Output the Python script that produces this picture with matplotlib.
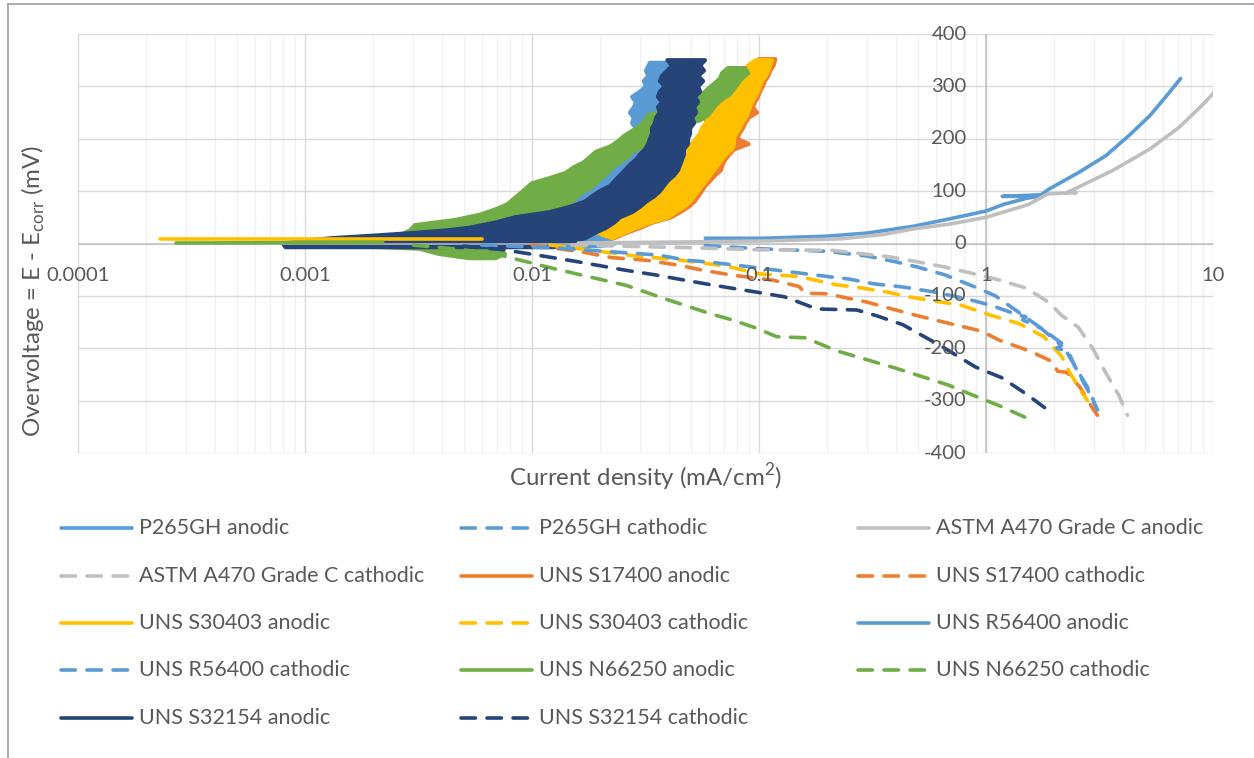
import numpy as np
import matplotlib.pyplot as plt
from matplotlib.lines import Line2D
from matplotlib.ticker import LogLocator, NullFormatter

plt.rcParams['font.family'] = ['Lato', 'DejaVu Sans']
plt.rcParams['mathtext.fontset'] = 'custom'
plt.rcParams['mathtext.rm'] = 'Lato'

BLUE = '#5B9BD5'
GREY = '#BFBFBF'
ORANGE = '#ED7D31'
YELLOW = '#FFC000'
GREEN = '#70AD47'
NAVY = '#264478'
TXT = '#595959'

# ---- smooth polarisation curves (current mA/cm2, overvoltage mV) ----
p265_an_i = [0.058, 0.105, 0.2, 0.3, 0.48, 0.69, 1.0, 1.2, 1.5, 1.69, 1.18, 1.75, 1.88, 2.57, 3.38, 4.26, 5.27, 6.27, 7.2]
p265_an_e = [10, 10, 14, 20, 33, 47, 62, 75, 86, 90, 90, 93, 103, 136, 168, 206, 244, 283, 315]

p265_ca_i = [0.058, 0.1, 0.2, 0.3, 0.4, 0.5, 0.66, 0.86, 1.1, 1.4, 1.7, 2.15, 2.55, 2.85, 3.05]
p265_ca_e = [-4, -10, -15, -24, -35, -45, -60, -80, -100, -132, -158, -190, -245, -280, -312]

a470_an_i = [0.016, 0.05, 0.11, 0.23, 0.35, 0.48, 0.69, 1.0, 1.53, 1.88, 2.5, 2.3, 2.4, 3.6, 5.3, 7.1, 9.1, 10.7]
a470_an_e = [1, 3, 5, 9, 17, 28, 37, 50, 74, 95, 97, 99, 102, 139, 181, 222, 267, 300]

a470_ca_i = [0.015, 0.05, 0.1, 0.21, 0.29, 0.37, 0.5, 0.66, 0.85, 1.15, 1.5, 1.9, 2.15, 2.55, 2.95, 3.35, 3.85, 4.2]
a470_ca_e = [-3, -8, -12, -13, -20, -25, -35, -45, -56, -70, -85, -113, -137, -160, -200, -245, -290, -328]

s17400_ca_i = [0.010, 0.0165, 0.0225, 0.032, 0.045, 0.055, 0.075, 0.115, 0.15, 0.16, 0.2, 0.22, 0.3, 0.37, 0.49, 0.68, 0.95, 1.15, 1.55, 1.95, 2.07, 2.27, 2.6, 2.95, 3.1]
s17400_ca_e = [-3, -16, -27, -32, -42, -50, -60, -70, -82, -95, -96, -100, -112, -123, -137, -152, -167, -185, -205, -225, -244, -246, -275, -315, -328]

s30403_ca_i = [0.012, 0.02, 0.03, 0.042, 0.063, 0.075, 0.1, 0.15, 0.2, 0.22, 0.265, 0.37, 0.46, 0.78, 1.05, 1.4, 1.8, 2.15, 2.35, 2.65, 2.8]
s30403_ca_e = [-3, -15, -25, -30, -40, -45, -58, -63, -75, -79, -83, -93, -102, -118, -137, -153, -178, -215, -248, -285, -300]

r56400_ca_i = [0.006, 0.012, 0.021, 0.036, 0.048, 0.062, 0.085, 0.125, 0.2, 0.25, 0.32, 0.43, 0.58, 0.81, 1.05, 1.4, 1.5, 1.45, 1.75, 2.15, 2.05, 2.3, 2.5, 2.85, 3.1]
r56400_ca_e = [-3, -8, -15, -22, -32, -36, -43, -52, -63, -68, -77, -83, -92, -105, -118, -137, -140, -146, -162, -195, -200, -206, -240, -285, -318]

n66250_ca_i = [0.003, 0.005, 0.0072, 0.0125, 0.026, 0.04, 0.062, 0.075, 0.095, 0.12, 0.16, 0.22, 0.4, 0.68, 0.88, 1.15, 1.6]
n66250_ca_e = [-3, -12, -22, -48, -80, -108, -135, -145, -160, -178, -180, -205, -238, -270, -290, -310, -338]

s32154_ca_i = [0.005, 0.0075, 0.0095, 0.0155, 0.025, 0.035, 0.047, 0.06, 0.075, 0.095, 0.13, 0.18, 0.27, 0.33, 0.43, 0.52, 0.63, 0.9, 1.17, 1.5, 1.9]
s32154_ca_e = [-5, -12, -19, -34, -50, -60, -70, -78, -85, -92, -102, -125, -127, -138, -155, -175, -195, -236, -256, -287, -320]

# ---- noisy anodic scans: overvoltage levels with low/high current envelope ----
s17400_an_e = [352, 340, 330, 320, 310, 300, 290, 280, 270, 260, 250, 240, 230, 220, 210, 200, 190, 180, 170, 160, 150, 140, 130, 120, 110, 100, 90, 80, 70, 60, 50, 40, 30, 20, 10]
s17400_an_lo = [0.100, 0.092, 0.088, 0.084, 0.081, 0.079, 0.075, 0.072, 0.069, 0.066, 0.055, 0.058, 0.059, 0.057, 0.056, 0.054, 0.052, 0.050, 0.048, 0.046, 0.044, 0.042, 0.041, 0.040, 0.039, 0.036, 0.033, 0.030, 0.028, 0.025, 0.023, 0.0205, 0.018, 0.0165, 0.015]
s17400_an_hi = [0.118, 0.116, 0.112, 0.110, 0.106, 0.104, 0.101, 0.099, 0.096, 0.094, 0.098, 0.090, 0.087, 0.085, 0.082, 0.080, 0.090, 0.078, 0.074, 0.071, 0.069, 0.068, 0.064, 0.061, 0.058, 0.056, 0.054, 0.052, 0.049, 0.045, 0.041, 0.034, 0.030, 0.026, 0.023]

s30403_an_e = [350, 340, 330, 320, 310, 300, 290, 280, 270, 260, 250, 240, 230, 220, 210, 200, 190, 180, 170, 160, 150, 140, 130, 120, 110, 100, 90, 80, 70, 60, 50, 40, 30, 20, 10, 5]
s30403_an_lo = [0.0970, 0.0895, 0.0859, 0.0824, 0.0792, 0.0776, 0.0730, 0.0701, 0.0673, 0.0647, 0.0621, 0.0596, 0.0585, 0.0561, 0.0550, 0.0528, 0.0507, 0.0487, 0.0467, 0.0449, 0.0431, 0.0414, 0.0405, 0.0397, 0.0381, 0.0352, 0.0325, 0.0299, 0.0276, 0.0249, 0.0227, 0.0203, 0.0180, 0.0163, 0.0147, 0.0133]
s30403_an_hi = [0.114, 0.112, 0.110, 0.107, 0.103, 0.101, 0.0990, 0.0960, 0.0931, 0.0912, 0.0895, 0.0877, 0.0841, 0.0824, 0.0792, 0.0776, 0.0776, 0.0760, 0.0716, 0.0687, 0.0660, 0.0634, 0.0608, 0.0585, 0.0561, 0.0539, 0.0518, 0.0497, 0.0467, 0.0431, 0.0397, 0.0331, 0.0287, 0.0254, 0.0225, 0.0199]
s30403_tail_i = [0.00023, 0.006]
s30403_tail_e = [8, 8]

r56400_an_e = [345, 330, 320, 310, 300, 290, 280, 270, 260, 250, 240, 230, 220, 210, 200, 190, 180, 170, 160, 150, 140, 130, 120, 110, 100, 90, 80, 70, 60, 50, 40, 30, 20, 10, 0, -5]
r56400_an_lo = [0.0331, 0.0318, 0.0325, 0.0311, 0.0318, 0.0299, 0.0276, 0.0287, 0.0281, 0.0270, 0.0281, 0.0276, 0.0287, 0.0287, 0.0293, 0.0287, 0.0265, 0.0259, 0.0249, 0.0232, 0.0221, 0.0208, 0.0199, 0.0191, 0.0180, 0.0166, 0.0150, 0.0136, 0.0120, 0.0106, 0.0093, 0.0080, 0.00653, 0.00533, 0.00507, 0.0059]
r56400_an_hi = [0.0405, 0.0405, 0.0397, 0.0389, 0.0397, 0.0381, 0.0374, 0.0381, 0.0366, 0.0374, 0.0374, 0.0366, 0.0381, 0.0366, 0.0374, 0.0366, 0.0348, 0.0331, 0.0318, 0.0299, 0.0287, 0.0270, 0.0259, 0.0244, 0.0232, 0.0221, 0.0210, 0.0195, 0.0184, 0.0180, 0.0176, 0.0171, 0.0180, 0.0199, 0.0232, 0.0199]

n66250_an_e = [335, 325, 315, 305, 295, 285, 275, 265, 255, 245, 235, 225, 215, 205, 195, 185, 175, 165, 155, 145, 135, 125, 115, 105, 95, 85, 75, 65, 55, 45, 35, 25, 15, 5, 0, -10, -20, -28]
n66250_an_lo = [0.0730, 0.0687, 0.0673, 0.0634, 0.0596, 0.0561, 0.0528, 0.0497, 0.0405, 0.0325, 0.0315, 0.0299, 0.0276, 0.0254, 0.0239, 0.0221, 0.0191, 0.0180, 0.0169, 0.0152, 0.0141, 0.0120, 0.0100, 0.0094, 0.00885, 0.0083, 0.0078, 0.0069, 0.0059, 0.0046, 0.00305, 0.0029, 0.0026, 0.00175, 0.00095, 0.0032, 0.0039, 0.0053]
n66250_an_hi = [0.0868, 0.0895, 0.0841, 0.0807, 0.0776, 0.0745, 0.0687, 0.0647, 0.0621, 0.0596, 0.0550, 0.0405, 0.0381, 0.0366, 0.0345, 0.0315, 0.0276, 0.0265, 0.0244, 0.0227, 0.0216, 0.0203, 0.0191, 0.0180, 0.0163, 0.0155, 0.0147, 0.0133, 0.0118, 0.0103, 0.0093, 0.00885, 0.0084, 0.0076, 0.0072, 0.0072, 0.0076, 0.0069]
n66250_tail_i = [0.00027, 0.0022]
n66250_tail_e = [1, 2]

s32154_an_e = [350, 340, 330, 320, 310, 300, 290, 280, 270, 260, 250, 240, 230, 220, 210, 200, 190, 180, 170, 160, 150, 140, 130, 120, 110, 100, 90, 80, 70, 60, 50, 40, 30, 25, 20, 15, 10, 5, 0, -7]
s32154_an_lo = [0.0395, 0.0414, 0.0395, 0.0374, 0.0366, 0.0385, 0.0366, 0.0359, 0.0374, 0.0359, 0.0366, 0.0352, 0.0348, 0.0338, 0.0338, 0.0331, 0.0325, 0.0315, 0.0299, 0.0287, 0.0270, 0.0257, 0.0244, 0.0232, 0.0221, 0.0199, 0.0184, 0.0171, 0.0147, 0.0120, 0.0084, 0.0069, 0.0053, 0.0042, 0.0030, 0.0020, 0.0013, 0.0010, 0.00080, 0.00082]
s32154_an_hi = [0.0578, 0.0550, 0.0572, 0.0539, 0.0567, 0.0539, 0.0550, 0.0523, 0.0539, 0.0518, 0.0528, 0.0507, 0.0518, 0.0497, 0.0497, 0.0487, 0.0487, 0.0467, 0.0467, 0.0458, 0.0449, 0.0440, 0.0422, 0.0397, 0.0381, 0.0366, 0.0345, 0.0318, 0.0299, 0.0276, 0.0244, 0.0230, 0.0212, 0.0200, 0.0189, 0.0180, 0.0171, 0.0155, 0.0133, 0.0125]

labels = ['P265GH anodic', 'P265GH cathodic', 'ASTM A470 Grade C anodic',
          'ASTM A470 Grade C cathodic', 'UNS S17400 anodic', 'UNS S17400 cathodic',
          'UNS S30403 anodic', 'UNS S30403 cathodic', 'UNS R56400 anodic',
          'UNS R56400 cathodic', 'UNS N66250 anodic', 'UNS N66250 cathodic',
          'UNS S32154 anodic', 'UNS S32154 cathodic']
colors = [BLUE, BLUE, GREY, GREY, ORANGE, ORANGE, YELLOW, YELLOW,
          BLUE, BLUE, GREEN, GREEN, NAVY, NAVY]

LW = 2.6
DASH = (0, (4.0, 3.2))

W, H = 1254, 758
fig = plt.figure(figsize=(W / 100, H / 100), dpi=100)
ax = fig.add_axes([78 / W, 1 - 453 / H, (1213 - 78) / W, (453 - 34) / H])


def curve(i, e, c, dashed=False):
    if dashed:
        ax.plot(i, e, color=c, lw=LW, linestyle=DASH, dash_capstyle='round')
    else:
        ax.plot(i, e, color=c, lw=LW, solid_capstyle='round', solid_joinstyle='round')


def band(e, lo, hi, c):
    e = np.asarray(e)
    x = np.r_[np.asarray(lo), np.asarray(hi)[::-1]]
    y = np.r_[e, e[::-1]]
    ax.fill(x, y, facecolor=c, edgecolor=c, lw=3.0, joinstyle='round')


curve(p265_an_i, p265_an_e, BLUE)
curve(p265_ca_i, p265_ca_e, BLUE, True)
curve(a470_an_i, a470_an_e, GREY)
curve(a470_ca_i, a470_ca_e, GREY, True)
band(s17400_an_e, s17400_an_lo, s17400_an_hi, ORANGE)
curve(s17400_ca_i, s17400_ca_e, ORANGE, True)
curve(s30403_tail_i, s30403_tail_e, YELLOW)
band(s30403_an_e, s30403_an_lo, s30403_an_hi, YELLOW)
curve(s30403_ca_i, s30403_ca_e, YELLOW, True)
band(r56400_an_e, r56400_an_lo, r56400_an_hi, BLUE)
curve(r56400_ca_i, r56400_ca_e, BLUE, True)
curve(n66250_tail_i, n66250_tail_e, GREEN)
band(n66250_an_e, n66250_an_lo, n66250_an_hi, GREEN)
curve(n66250_ca_i, n66250_ca_e, GREEN, True)
band(s32154_an_e, s32154_an_lo, s32154_an_hi, NAVY)
curve(s32154_ca_i, s32154_ca_e, NAVY, True)

ax.set_xscale('log')
ax.set_xlim(1e-4, 10)
ax.set_ylim(-400, 400)
ax.set_yticks(range(-400, 401, 100))
ax.xaxis.set_minor_locator(LogLocator(base=10, subs=np.arange(2, 10)))
ax.xaxis.set_minor_formatter(NullFormatter())
ax.set_xticklabels([])
ax.set_yticklabels([])
ax.tick_params(which='both', length=0)
for s in ax.spines.values():
    s.set_visible(False)
ax.set_axisbelow(True)
ax.grid(True, which='major', color='#D9D9D9', lw=1.0)
ax.grid(True, which='minor', axis='x', color='#F0F0F0', lw=1.0)
ax.axhline(0, color='#BFBFBF', lw=1.1, zorder=1.5)
ax.axvline(1, color='#BFBFBF', lw=1.1, zorder=1.5)

# tick labels sit along the crossing axes
for v, s in zip([1e-4, 1e-3, 1e-2, 0.1, 1, 10], ['0.0001', '0.001', '0.01', '0.1', '1', '10']):
    ax.annotate(s, xy=(v, 0), xytext=(0, -23), textcoords='offset points',
                ha='center', va='center', fontsize=14.5, color=TXT, annotation_clip=False)
for v in range(-400, 401, 100):
    ax.annotate(str(v), xy=(1, v), xytext=(-14, 0), textcoords='offset points',
                ha='right', va='center', fontsize=14.5, color=TXT, annotation_clip=False)

fig.text(33 / W, 1 - 291 / H, r'Overvoltage = E - E$_{\mathrm{corr}}$ (mV)', rotation=90,
         ha='center', va='center', fontsize=17.3, color=TXT)
fig.text(645 / W, 1 - 477 / H, r'Current density (mA/cm$^{2}$)',
         ha='center', va='center', fontsize=17.3, color=TXT)

# legend, three columns
col_x = [61, 461, 858]
row_y = [528, 576, 623, 670, 718]
for k, (lab, c) in enumerate(zip(labels, colors)):
    x0, y0 = col_x[k % 3], row_y[k // 3]
    ls = DASH if 'cathodic' in lab else '-'
    fig.add_artist(Line2D([x0 / W, (x0 + 71) / W], [1 - y0 / H] * 2, transform=fig.transFigure,
                          color=c, lw=LW, linestyle=ls, dash_capstyle='round',
                          solid_capstyle='round'))
    fig.text((x0 + 78) / W, 1 - y0 / H, lab, ha='left', va='center', fontsize=15.5, color=TXT)

# chart frame
fig.add_artist(Line2D([8 / W, 8 / W], [0, 1 - 4 / H], transform=fig.transFigure, color='#A6A6A6', lw=1.3))
fig.add_artist(Line2D([8 / W, 1], [1 - 4 / H, 1 - 4 / H], transform=fig.transFigure, color='#A6A6A6', lw=1.3))

fig.savefig('out.png', dpi=100)
